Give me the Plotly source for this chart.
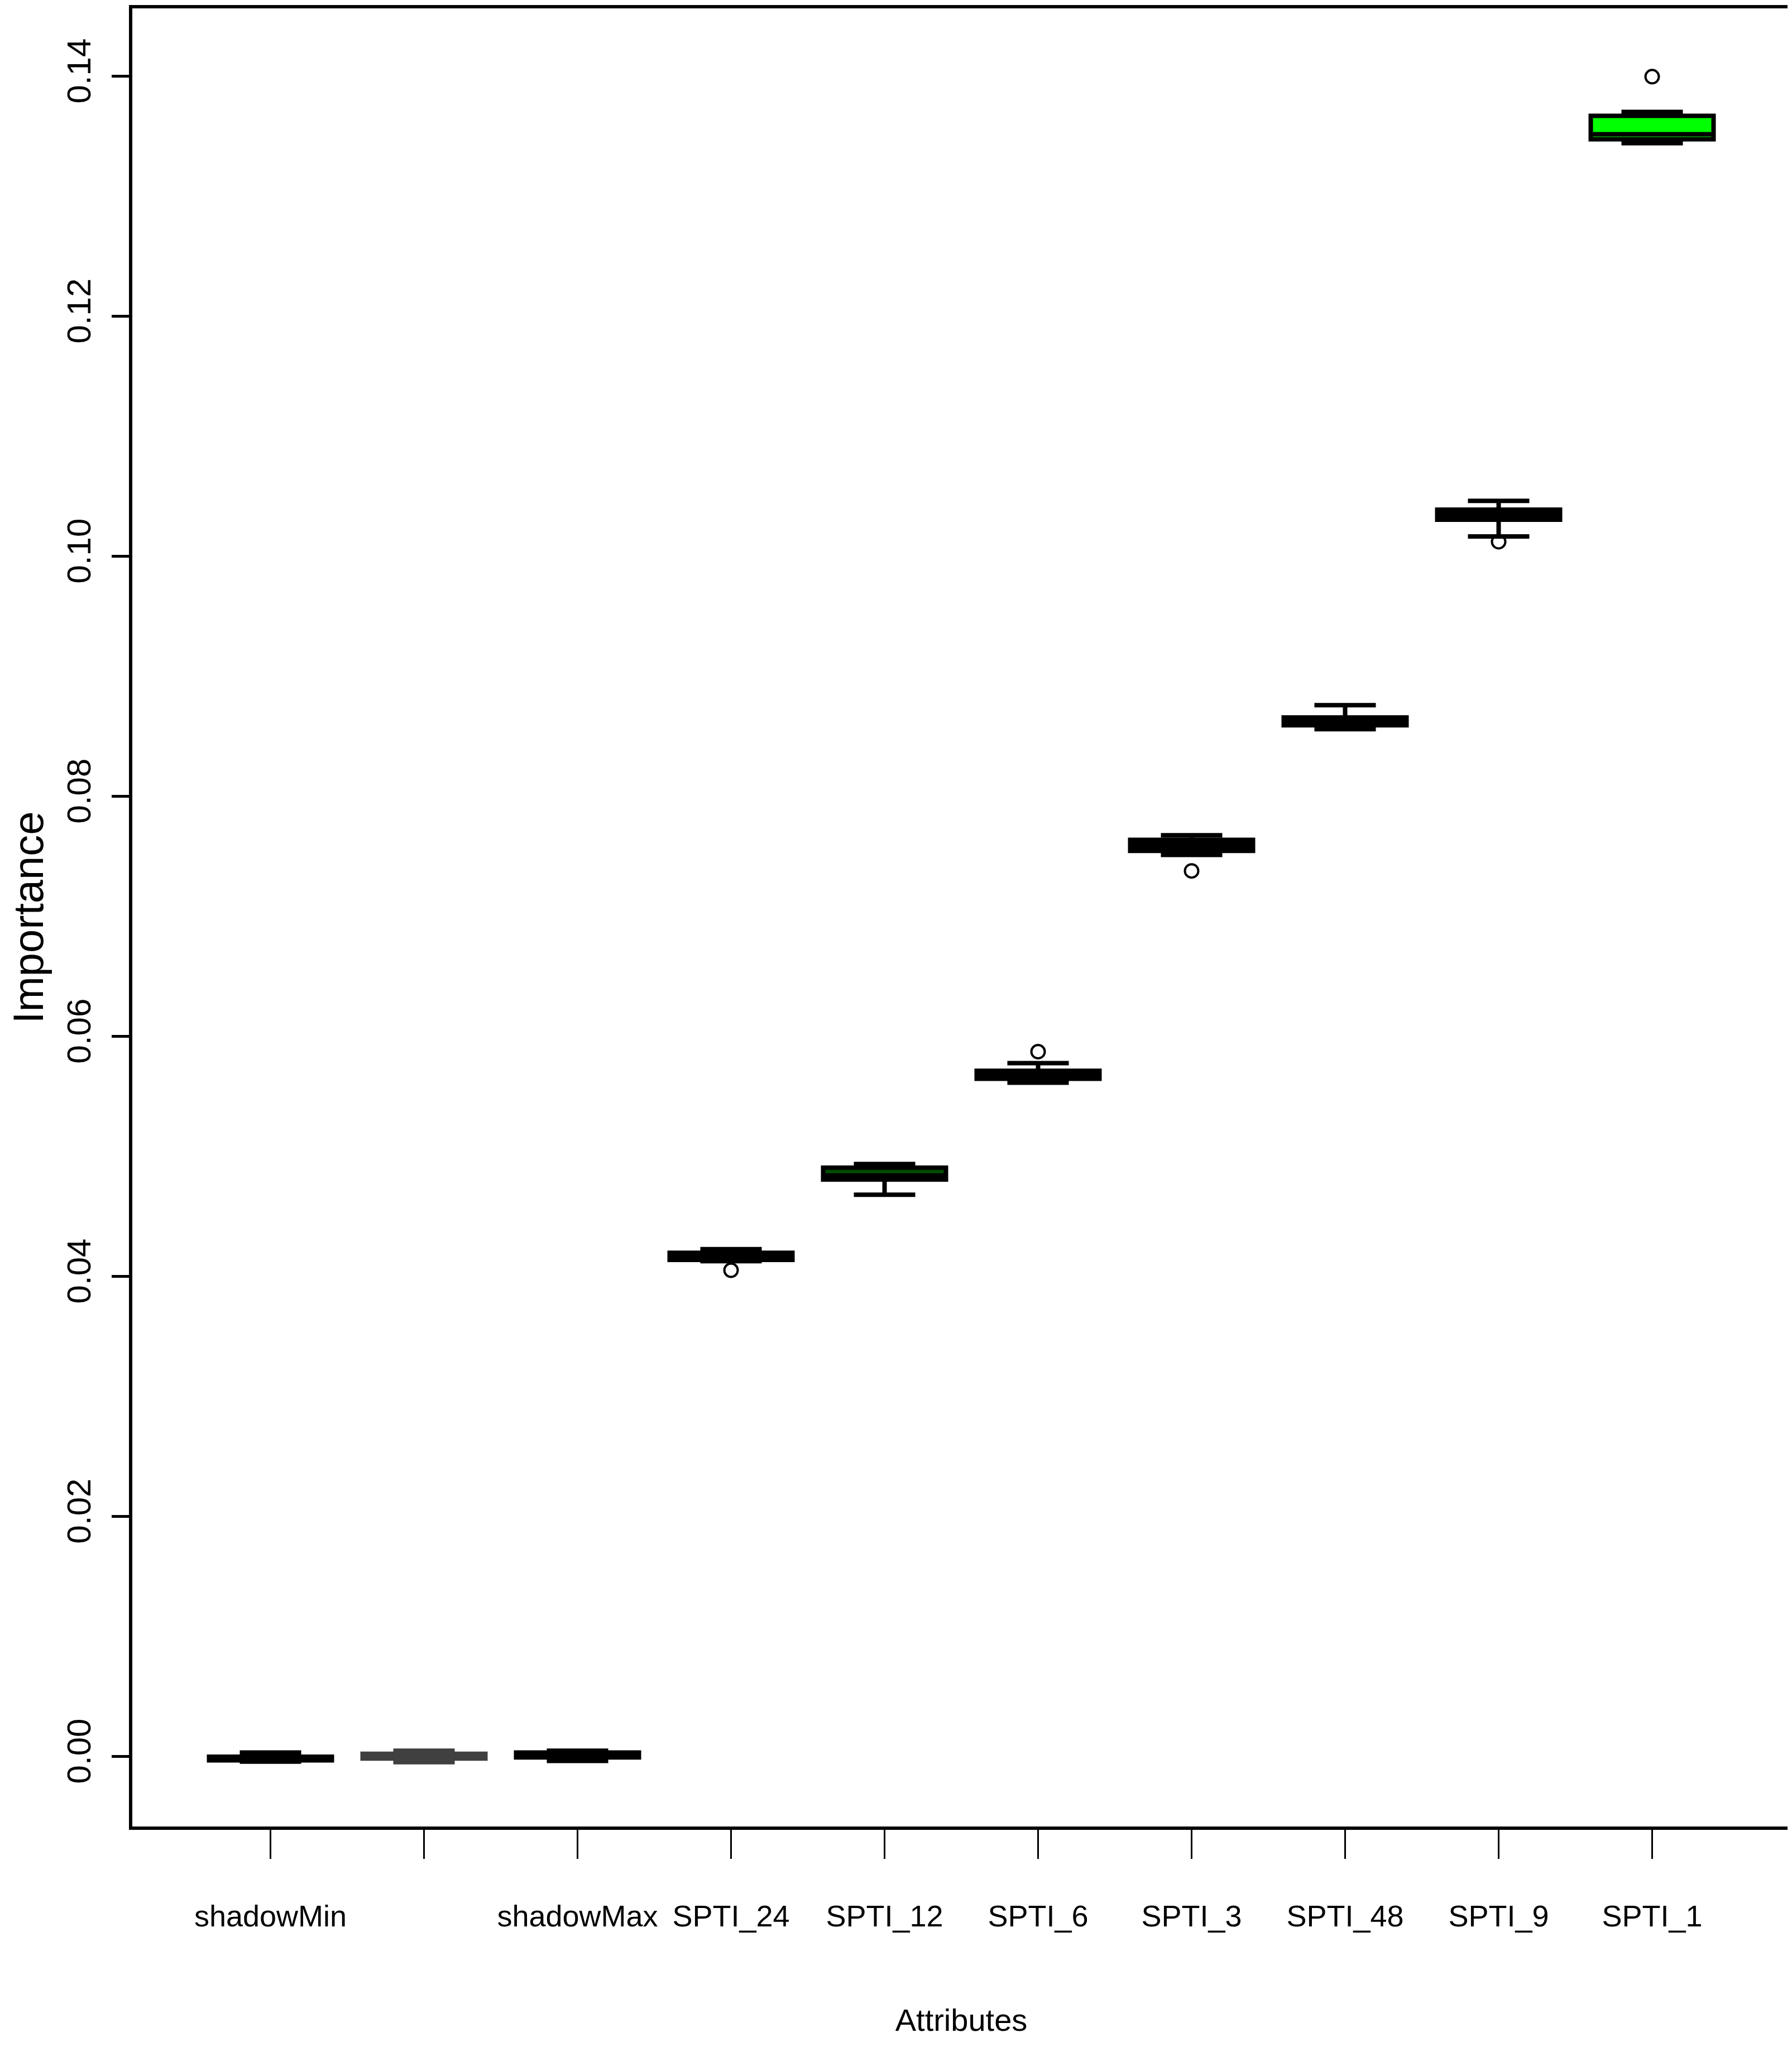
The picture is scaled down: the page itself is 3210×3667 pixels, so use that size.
import plotly.graph_objects as go

# Boruta importance per attribute (box stats)
attributes = ['shadowMin', 'shadowMean', 'shadowMax', 'SPTI_24', 'SPTI_12',
              'SPTI_6', 'SPTI_3', 'SPTI_48', 'SPTI_9', 'SPTI_1']
tick_labels = ['shadowMin', '', 'shadowMax', 'SPTI_24', 'SPTI_12',
               'SPTI_6', 'SPTI_3', 'SPTI_48', 'SPTI_9', 'SPTI_1']

lower = [-0.00045, -0.0005, -0.0004, 0.04125, 0.04678, 0.05612, 0.0751, 0.08557, 0.10163, 0.1344]
q1 = [-0.00035, -0.0002, -0.0001, 0.04135, 0.04805, 0.05644, 0.07543, 0.0859, 0.10303, 0.13472]
median = [-0.0002, 0.0, 0.0002, 0.04165, 0.04838, 0.05675, 0.07588, 0.08624, 0.10341, 0.13514]
q3 = [-0.00005, 0.0002, 0.0003, 0.04194, 0.04904, 0.0571, 0.07635, 0.08655, 0.10386, 0.13668]
upper = [0.0003, 0.00045, 0.00045, 0.04224, 0.04934, 0.05774, 0.07673, 0.08757, 0.1046, 0.137]

outlier_attr = ['SPTI_24', 'SPTI_6', 'SPTI_3', 'SPTI_9', 'SPTI_1']
outlier_val = [0.04049, 0.0587, 0.07376, 0.10119, 0.13994]

y_ticks = [0.0, 0.02, 0.04, 0.06, 0.08, 0.10, 0.12, 0.14]
y_tick_text = ['0.00', '0.02', '0.04', '0.06', '0.08', '0.10', '0.12', '0.14']

fills = ['#c0c0c0', '#606060', '#c0c0c0', '#c0c0c0', '#004d00',
         'black', 'black', 'black', 'black', '#00ff00']
edges = ['black', '#404040', 'black', 'black', 'black',
         'black', 'black', 'black', 'black', 'black']

font_family = 'Liberation Sans, Arial, sans-serif'

fig = go.Figure()
for i, name in enumerate(attributes):
    fig.add_trace(go.Box(
        x=[name], q1=[q1[i]], median=[median[i]], q3=[q3[i]],
        lowerfence=[lower[i]], upperfence=[upper[i]],
        width=0.8, whiskerwidth=0.5, boxpoints=False,
        fillcolor=fills[i], line=dict(color=edges[i], width=8),
        showlegend=False,
    ))

fig.add_trace(go.Scatter(
    x=outlier_attr, y=outlier_val, mode='markers',
    marker=dict(symbol='circle-open', size=24, color='black', line=dict(width=4)),
    showlegend=False,
))

fig.update_layout(
    width=3210,
    height=3667,
    margin=dict(l=229, r=11, t=7, b=403, autoexpand=False),
    paper_bgcolor='white',
    plot_bgcolor='white',
    font=dict(family=font_family, color='black'),
    xaxis=dict(
        type='category',
        categoryorder='array',
        categoryarray=attributes,
        range=[-0.9, 9.9],
        tickvals=attributes,
        ticktext=tick_labels,
        tickfont=dict(size=54),
        ticks='outside', ticklen=52, tickwidth=3, tickcolor='black',
        ticklabelstandoff=56,
        showline=True, linewidth=6, linecolor='black', mirror=True,
        showgrid=False, zeroline=False,
        title=dict(text='Attributes', font=dict(size=56), standoff=140),
    ),
    yaxis=dict(
        range=[-0.00586, 0.14563],
        tickvals=y_ticks,
        ticktext=y_tick_text,
        tickangle=-90,
        tickfont=dict(size=60),
        ticks='outside', ticklen=31, tickwidth=5, tickcolor='black',
        ticklabelstandoff=14,
        showline=True, linewidth=6, linecolor='black', mirror=True,
        showgrid=False, zeroline=False,
        title=dict(text='Importance', font=dict(size=76), standoff=64),
    ),
)

fig.write_html('out.html')
